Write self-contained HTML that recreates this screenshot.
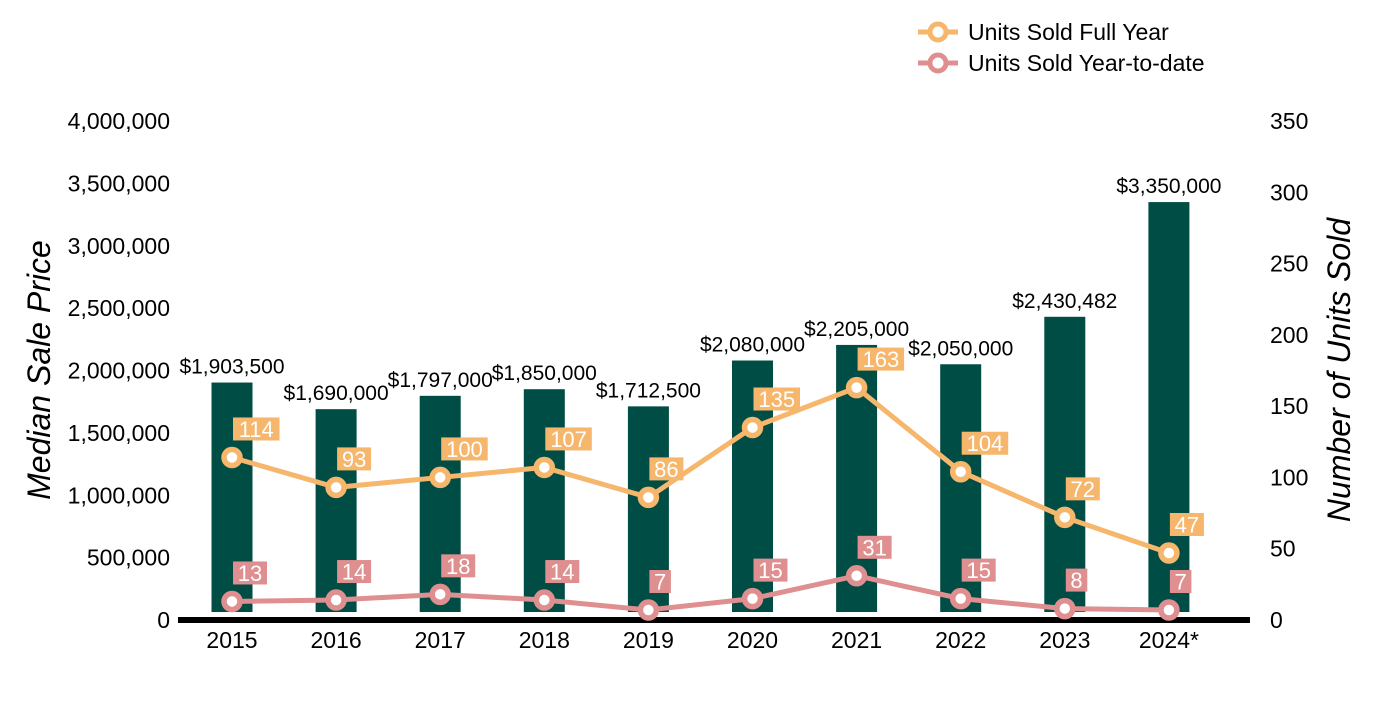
<!DOCTYPE html>
<html><head><meta charset="utf-8"><style>
body{margin:0;background:#fff;}
svg{font-family:"Liberation Sans",Arial,sans-serif;}
</style></head><body>
<svg width="1400" height="700" viewBox="0 0 1400 700">
<g id="g"></g>
</svg>
<script>
const categories=["2015","2016","2017","2018","2019","2020","2021","2022","2023","2024*"];
const prices=[1903500,1690000,1797000,1850000,1712500,2080000,2205000,2050000,2430482,3350000];
const priceLabels=["$1,903,500","$1,690,000","$1,797,000","$1,850,000","$1,712,500","$2,080,000","$2,205,000","$2,050,000","$2,430,482","$3,350,000"];
const fullYear=[114,93,100,107,86,135,163,104,72,47];
const ytd=[13,14,18,14,7,15,31,15,8,7];
const leftTicks=[0,500000,1000000,1500000,2000000,2500000,3000000,3500000,4000000];
const rightTicks=[0,50,100,150,200,250,300,350];

const NS="http://www.w3.org/2000/svg";
const g=document.getElementById('g');
const Y0=620,YT=121;
const yL=v=>Y0-v/4000000*(Y0-YT);
const yR=v=>Y0-v/350*(Y0-YT);
const xC=i=>232+i*104.1;
function el(t,a,txt){const e=document.createElementNS(NS,t);for(const k in a)e.setAttribute(k,a[k]);if(txt!==undefined)e.textContent=txt;g.appendChild(e);return e;}

leftTicks.forEach(v=>{const t=el('text',{x:170,y:yL(v)+8,'text-anchor':'end','font-size':23,fill:'#000'},v.toLocaleString('en-US'));

});
rightTicks.forEach(v=>{const t=el('text',{x:1270,y:yR(v)+8,'font-size':23,fill:'#000'},String(v));

});

let t=el('text',{x:0,y:0,transform:'translate(50,370) rotate(-90)','text-anchor':'middle','font-size':32,'font-style':'italic',fill:'#000'},'Median Sale Price');


t=el('text',{x:0,y:0,transform:'translate(1350,370) rotate(-90)','text-anchor':'middle','font-size':32,'font-style':'italic',fill:'#000'},'Number of Units Sold');



categories.forEach((c,i)=>{
 const b=el('rect',{x:xC(i)-20.5,y:yL(prices[i]),width:41,height:612-yL(prices[i]),fill:'#004d45'});
 
 
 const l=el('text',{x:xC(i),y:yL(prices[i])-9,'text-anchor':'middle','font-size':21,fill:'#000'},priceLabels[i]);
 
 
 const x=el('text',{x:xC(i),y:648,'text-anchor':'middle','font-size':23,fill:'#000'},c);
 
 
});
const ax=el('rect',{x:178,y:617,width:1072,height:6,fill:'#000'});



function series(vals,color,name){
 const pl=el('polyline',{points:vals.map((v,i)=>xC(i)+','+yR(v)).join(' '),fill:'none',stroke:color,'stroke-width':5});
 
 
 vals.forEach((v,i)=>{
  const px=xC(i),py=yR(v);
  const c=el('circle',{cx:px,cy:py,r:8,fill:'#fff',stroke:color,'stroke-width':5.5});
  
  
  const s=String(v);const w=s.length*12.5+9;
  const r=el('rect',{x:px+1,y:py-40,width:w,height:23,fill:color});
  
  
  const tx=el('text',{x:px+1+w/2,y:py-20.5,'text-anchor':'middle','font-size':22,fill:'#fff'},s);
  
  
 });
}
series(fullYear,'#f6b66b','full-year');
series(ytd,'#df8f8f','ytd');

[['Units Sold Full Year','#f6b66b',32],['Units Sold Year-to-date','#df8f8f',63]].forEach(([txt,col,y],k)=>{
 const ln=el('line',{x1:918,y1:y,x2:958,y2:y,stroke:col,'stroke-width':5});
 
 
 const c=el('circle',{cx:938,cy:y,r:8,fill:'#fff',stroke:col,'stroke-width':5});
 
 
 const tx=el('text',{x:968,y:y+8,'font-size':23,fill:'#000'},txt);
 
 
});
</script>
</body></html>
